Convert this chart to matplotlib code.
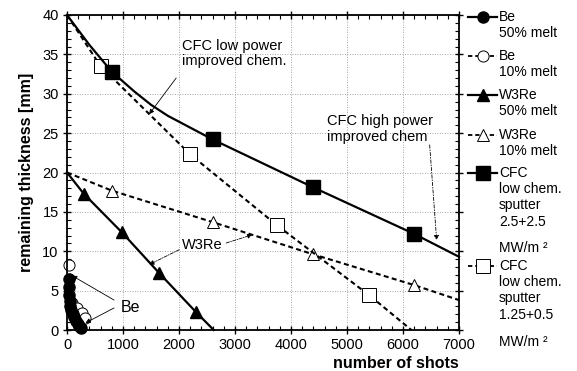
import matplotlib.pyplot as plt
from matplotlib.ticker import MultipleLocator

plt.rcParams['font.family'] = ['Liberation Sans', 'DejaVu Sans']

# Be, 50% melt (solid, filled circles)
be50_x = [30, 35, 40, 45, 55, 75, 100, 130, 160, 190, 220, 250]
be50_y = [6.5, 5.5, 4.5, 3.7, 3.0, 2.5, 2.0, 1.6, 1.2, 0.8, 0.5, 0.2]
# Be, 10% melt (dashed, open circles)
be10_x = [35, 90, 180, 270, 330]
be10_y = [8.2, 3.4, 2.8, 2.2, 1.5]
# W3Re, 50% melt
w50_x = [0, 300, 980, 1650, 2300, 2620]
w50_y = [20, 17.3, 12.4, 7.2, 2.3, 0]
w50_marks = [1, 2, 3, 4]
# W3Re, 10% melt
w10_x = [0, 800, 2600, 4400, 6200, 7000]
w10_y = [20, 17.7, 13.7, 9.6, 5.7, 3.8]
w10_marks = [1, 2, 3, 4]
# CFC 2.5+2.5 MW/m2
cfch_x = [0, 400, 800, 1200, 1500, 1800, 2200, 2600, 4400, 6200, 7000]
cfch_y = [40, 36.2, 32.8, 30.3, 28.6, 27.2, 25.7, 24.2, 18.1, 12.2, 9.3]
cfch_marks = [2, 7, 8, 9]
# CFC 1.25+0.5 MW/m2
cfcl_x = [0, 600, 2200, 3750, 5400, 6150]
cfcl_y = [40, 33.5, 22.3, 13.3, 4.4, 0]
cfcl_marks = [1, 2, 3, 4]

x_ticks = [0, 1000, 2000, 3000, 4000, 5000, 6000, 7000]
y_ticks = [0, 5, 10, 15, 20, 25, 30, 35, 40]

series = [
    (be50_x, be50_y, '-', 'o', 'black', 8, None, 'Be\n50% melt', None, 3),
    (be10_x, be10_y, '--', 'o', 'white', 8, None, 'Be\n10% melt', None, 2),
    (w50_x, w50_y, '-', '^', 'black', 8, w50_marks, 'W3Re\n50% melt', None, 3),
    (w10_x, w10_y, '--', '^', 'white', 8, w10_marks, 'W3Re\n10% melt', None, 2),
    (cfch_x, cfch_y, '-', 's', 'black', 9.5, cfch_marks,
     'CFC\nlow chem.\nsputter\n2.5+2.5', 'MW/m ²', 3),
    (cfcl_x, cfcl_y, '--', 's', 'white', 9.5, cfcl_marks,
     'CFC\nlow chem.\nsputter\n1.25+0.5', 'MW/m ²', 2),
]

fig = plt.figure(figsize=(5.77, 3.71), dpi=100)
ax = fig.add_axes([67/577, 41/371, 392/577, 315/371])

for x, y, ls, mk, fc, ms, marks, lab, extra, z in series:
    lw = 1.6 if ls == '-' else 1.5
    mew = 1.0 if fc == 'black' else 0.7
    line, = ax.plot(x, y, color='black', lw=lw, ls=ls, marker=mk, ms=ms,
                    mfc=fc, mec='black', mew=mew, markevery=marks,
                    clip_on=False, zorder=z)
    if ls == '--':
        line.set_dashes((2.4, 1.6))

ax.set_xlim(0, 7000)
ax.set_ylim(0, 40)
ax.set_xticks(x_ticks)
ax.set_yticks(y_ticks)
ax.xaxis.set_minor_locator(MultipleLocator(200))
ax.yaxis.set_minor_locator(MultipleLocator(1))
ax.tick_params(which='major', direction='inout', length=6, width=1,
               top=True, right=True, labelsize=10.5, pad=3)
ax.tick_params(which='minor', direction='in', length=3, width=0.8,
               top=True, right=True)
for sp in ax.spines.values():
    sp.set_linewidth(1.3)
ax.grid(True, which='major', ls=(0, (1, 2)), lw=0.6, color='#888888')

ax.set_ylabel('remaining thickness [mm]', fontsize=11.5, fontweight='bold', labelpad=6)
ax.set_xlabel('number of shots', fontsize=11.5, fontweight='bold', loc='right', labelpad=3)

# annotations
thin = dict(arrowstyle='-|>', color='black', lw=0.6, mutation_scale=7,
            shrinkA=0, shrinkB=0)
ax.text(2057, 35.1, 'CFC low power\nimproved chem.', fontsize=10.5,
        va='center', ha='left', linespacing=1.15)
ax.annotate('', xy=(1467, 27.4), xytext=(1950, 32.0), arrowprops=thin)

ax.text(4651, 25.5, 'CFC high power\nimproved chem', fontsize=10.5,
        va='center', ha='left', linespacing=1.15)
ax.annotate('', xy=(6601, 11.4), xytext=(6476, 23.5),
            arrowprops=dict(thin, ls=(0, (4, 2, 1, 2))))

dashdot = dict(thin, ls=(0, (4, 1.5, 1, 1.5)))
ax.text(2424, 10.8, 'W3Re', fontsize=10.5, va='center', ha='center')
ax.annotate('', xy=(1467, 8.3), xytext=(2004, 10.2), arrowprops=dashdot)
ax.annotate('', xy=(3310, 12.1), xytext=(2844, 11.05), arrowprops=dashdot)

ax.text(1127, 2.9, 'Be', fontsize=11.5, va='center', ha='center')
ax.annotate('', xy=(90, 6.9), xytext=(841, 3.8), arrowprops=thin)
ax.annotate('', xy=(330, 0.9), xytext=(841, 2.8), arrowprops=thin)

# legend drawn at the right side
lg = fig.add_axes([0, 0, 1, 1])
lg.set_xlim(0, 577)
lg.set_ylim(371, 0)
lg.axis('off')
first_rows = [17, 56, 95, 135, 173, 266]
extra_rows = [None, None, None, None, 248, 342]
for (x, y, ls, mk, fc, ms, marks, lab, extra, z), y0, y1 in zip(series, first_rows, extra_rows):
    lw = 1.6 if ls == '-' else 1.3
    h, = lg.plot([468, 497], [y0, y0], color='black', lw=lw, ls=ls)
    if ls == '--':
        h.set_dashes((2.4, 1.6))
    lg.plot([483], [y0], marker=mk, ms=ms, mfc=fc, mec='black',
            mew=1.0 if fc == 'black' else 0.7, ls='none')
    lg.text(499, y0 - 7, lab, fontsize=10, va='top', ha='left', linespacing=1.2)
    if extra:
        lg.text(499, y1, extra, fontsize=10, va='center', ha='left')

fig.savefig('out.png', dpi=100)
